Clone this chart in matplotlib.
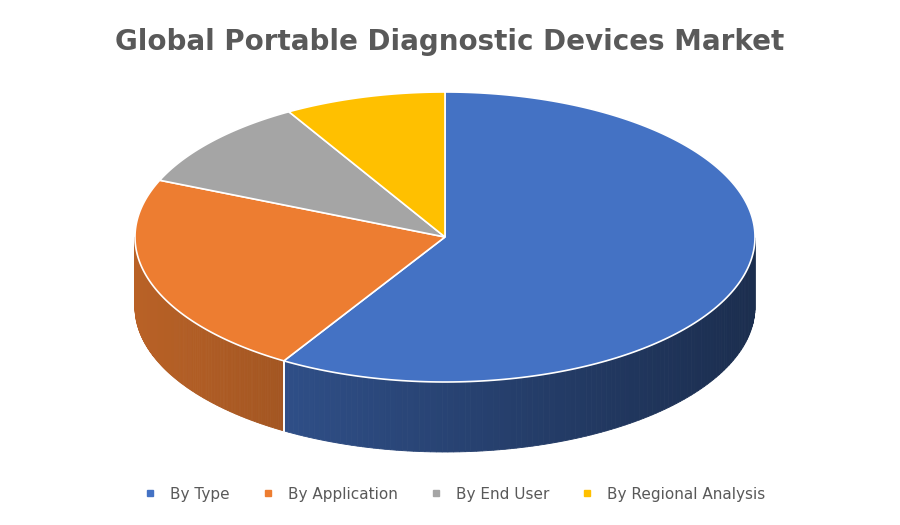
import numpy as np
import matplotlib
matplotlib.use("Agg")
import matplotlib.pyplot as plt
from matplotlib.patches import Polygon
from matplotlib.lines import Line2D
from matplotlib.colors import to_rgb

categories = ["By Type", "By Application", "By End User", "By Regional Analysis"]
values = [58.7, 22.7, 10.2, 8.4]
colors = ["#4472C4", "#ED7D31", "#A5A5A5", "#FFC000"]
title = "Global Portable Diagnostic Devices Market"

cx, cy, rx, ry, depth = 445, 237, 310, 145, 70

fig = plt.figure(figsize=(9, 5.25), dpi=100)
ax = fig.add_axes([0, 0, 1, 1])
ax.set_xlim(0, 900); ax.set_ylim(525, 0); ax.axis("off")

def pt(a, dz=0):
    return cx + rx*np.cos(a), cy - ry*np.sin(a) + dz

fr = np.array(values) / sum(values)
starts = np.pi/2 - 2*np.pi*np.concatenate([[0], np.cumsum(fr)[:-1]])
ends = starts - 2*np.pi*fr

# sides
for s, e, c in zip(starts, ends, colors):
    angs = np.linspace(e, s, 200)
    base = np.array(to_rgb(c))
    for a0, a1 in zip(angs[:-1], angs[1:]):
        am = (a0 + a1) / 2
        if np.sin(am) > 0.001:
            continue
        t = (np.cos(am) + 1) / 2  # 0 left, 1 right
        f = 0.78 - 0.38*t
        col = np.clip(base*f, 0, 1)
        p = [pt(a0), pt(a1), pt(a1, depth), pt(a0, depth)]
        ax.add_patch(Polygon(p, closed=True, facecolor=col, edgecolor=col, lw=0.6))
    # edge at boundary if on front
    for a in (s, e):
        if np.sin(a) < 0:
            x, y = pt(a)
            ax.plot([x, x], [y, y+depth], color="white", lw=1.2)

# tops
for s, e, c in zip(starts, ends, colors):
    angs = np.linspace(s, e, 200)
    p = [(cx, cy)] + [pt(a) for a in angs]
    ax.add_patch(Polygon(p, closed=True, facecolor=c, edgecolor="white", lw=1.2))

ax.text(450, 42, title, ha="center", va="center", fontsize=20, fontweight="bold", color="#595959")

handles = [Line2D([], [], marker="s", ls="", color=c, markersize=5) for c in colors]
fig.legend(handles, categories, loc="center", bbox_to_anchor=(0.5, 1-494/525), ncol=4,
           frameon=False, fontsize=11, labelcolor="#595959", handletextpad=0.3, columnspacing=1.5)

fig.savefig("out.png", dpi=100)
